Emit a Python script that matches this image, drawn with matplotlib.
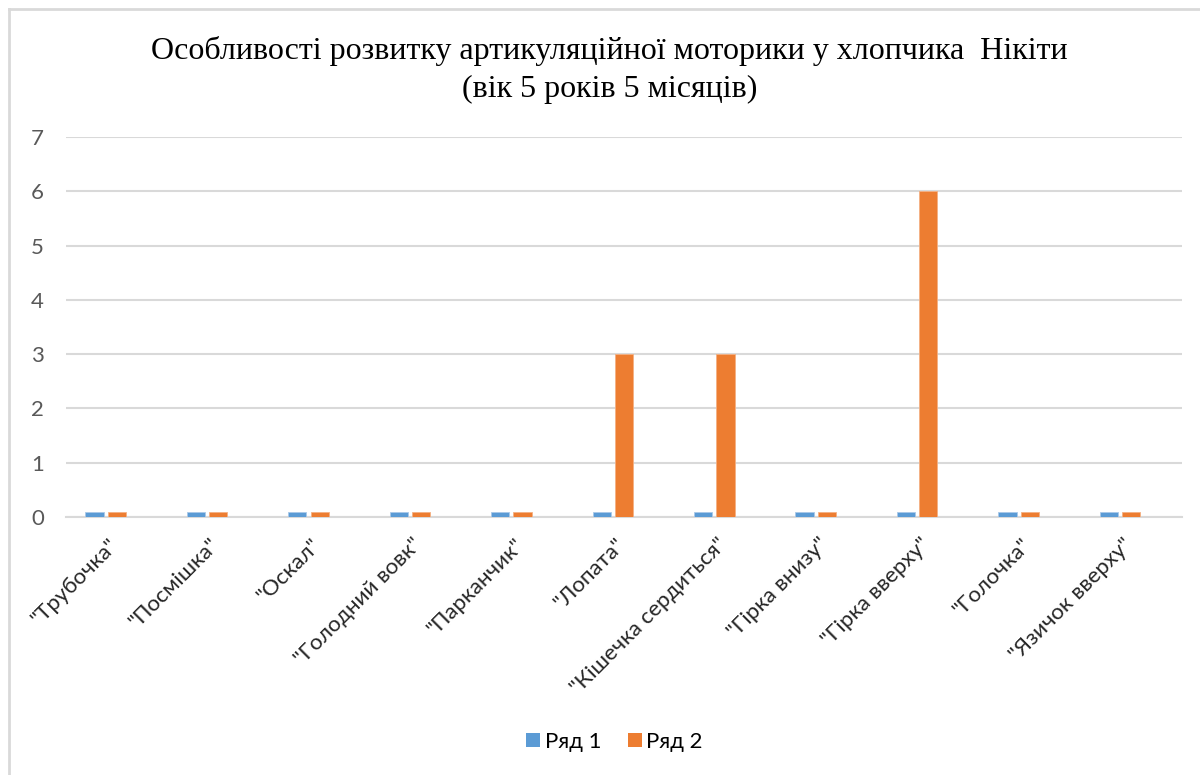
import matplotlib
matplotlib.use("Agg")
import matplotlib.pyplot as plt
from matplotlib.lines import Line2D
from matplotlib.patches import Patch
from matplotlib.transforms import ScaledTranslation
import numpy as np

categories = ['"Трубочка"', '"Посмішка"', '"Оскал"', '"Голодний вовк"', '"Парканчик"',
              '"Лопата"', '"Кішечка сердиться"', '"Гірка внизу"', '"Гірка вверху"',
              '"Голочка"', '"Язичок вверху"']
series1 = [0.1, 0.1, 0.1, 0.1, 0.1, 0.1, 0.1, 0.1, 0.1, 0.1, 0.1]
series2 = [0.1, 0.1, 0.1, 0.1, 0.1, 3, 3, 0.1, 6, 0.1, 0.1]
series_names = ["Ряд 1", "Ряд 2"]
title = "Особливості розвитку артикуляційної моторики у хлопчика  Нікіти\n(вік 5 років 5 місяців)"

BLUE = "#5B9BD5"
ORANGE = "#ED7D31"
GRID = "#D9D9D9"
SANS = ["Lato", "DejaVu Sans"]
SERIF = ["Liberation Serif", "DejaVu Serif"]

fig = plt.figure(figsize=(12, 7.75), dpi=100)
ax = fig.add_axes([66/1200, 1 - 517/775, (1182 - 66)/1200, (517 - 137)/775])

x = np.arange(len(categories))
w = 0.18
ax.bar(x - 0.22, series1, width=w, color=BLUE, edgecolor="#A9C8E8", linewidth=0.6, zorder=3, label=series_names[0])
ax.bar(x, series2, width=w, color=ORANGE, edgecolor="#F4B183", linewidth=0.6, zorder=3, label=series_names[1])

ax.set_xlim(-0.5, len(categories) - 0.5)
ax.set_ylim(0, 7)
ax.set_yticks(range(0, 8))
ax.yaxis.grid(True, color=GRID, linewidth=1.5, zorder=0)
ax.set_axisbelow(True)
for s in ["top", "right", "left"]:
    ax.spines[s].set_visible(False)
ax.spines["bottom"].set_color(GRID)
ax.spines["bottom"].set_linewidth(1.5)
ax.tick_params(axis="y", length=0, pad=16, labelsize=16, labelcolor="#595959")
ax.tick_params(axis="x", length=0, pad=8)
for lab in ax.get_yticklabels():
    lab.set_family(SANS)
ax.set_xticks(x)
ax.set_xticklabels(categories, rotation=45, ha="right", rotation_mode="anchor",
                   fontsize=16, color="#262626", family=SANS)
offset = ScaledTranslation(-9/100, -6/100, fig.dpi_scale_trans)
for lab in ax.get_xticklabels():
    lab.set_transform(lab.get_transform() + offset)

fig.text(0.508, 1 - 70/775, title, ha="center", va="center", fontsize=23,
         family=SERIF, color="#000000", linespacing=1.38)

handles = [Patch(facecolor=BLUE), Patch(facecolor=ORANGE)]
fig.legend(handles, series_names, loc="center", bbox_to_anchor=(0.512, 1 - 742/775),
           ncol=2, frameon=False, prop={"family": SANS, "size": 16},
           handlelength=0.62, handleheight=0.62, handletextpad=0.2, columnspacing=1.2)

# chart area border (left and top)
fig.add_artist(Line2D([9/1200, 9/1200], [0, 1 - 9/775], color=GRID, linewidth=2))
fig.add_artist(Line2D([9/1200, 1], [1 - 9/775, 1 - 9/775], color=GRID, linewidth=2))

fig.savefig("out.png", dpi=100, facecolor="white")
